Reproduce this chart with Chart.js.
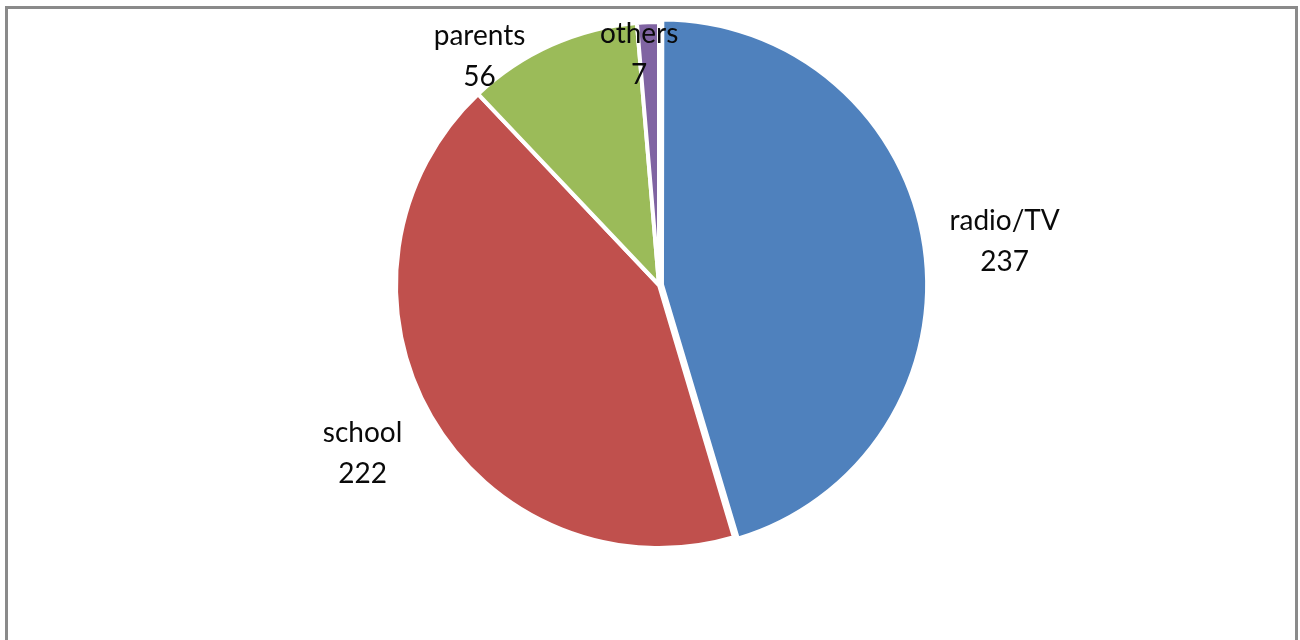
<!DOCTYPE html>
<html>
<head>
<meta charset="utf-8">
<script src="https://cdn.jsdelivr.net/npm/chart.js@4/dist/chart.umd.min.js"></script>
<style>
  html, body { margin: 0; padding: 0; background: #fff; }
  #wrap { width: 1300px; height: 640px; position: relative; }
</style>
</head>
<body>
<div id="wrap"><canvas id="myChart" width="1300" height="640"></canvas></div>
<script>
// data
var categories = ['radio/TV', 'school', 'parents', 'others'];
var counts = [237, 222, 56, 7];
var colors = ['#4F81BD', '#C0504D', '#9BBB59', '#8064A2'];

// label placement: distance (x radius) and angle nudge (deg) from slice middle
var labelDist = [1.325, 1.295, 1.105, 0.88];
var labelNudge = [1, 0.5, -14, -2.5];

// grey frame round the whole chart
const framePlugin = {
    id: 'frame',
    beforeDraw(chart) {
        const ctx = chart.ctx;
        ctx.save();
        ctx.strokeStyle = '#8a8a8a';
        ctx.lineWidth = 3;
        ctx.strokeRect(6.5, 7.5, 1290, 700);
        ctx.restore();
    }
};

// two-line labels: name and value
const sliceLabels = {
    id: 'sliceLabels',
    afterDatasetsDraw(chart) {
        const ctx = chart.ctx;
        const meta = chart.getDatasetMeta(0);
        ctx.save();
        ctx.font = '28px Lato, "Open Sans", sans-serif';
        ctx.fillStyle = '#0a0a0a';
        ctx.textAlign = 'center';
        ctx.textBaseline = 'middle';
        meta.data.forEach((arc, i) => {
            const p = arc.getProps(['x', 'y', 'startAngle', 'endAngle', 'outerRadius'], true);
            const mid = (p.startAngle + p.endAngle) / 2 + labelNudge[i] * Math.PI / 180;
            const d = p.outerRadius * labelDist[i];
            const x = p.x + Math.cos(mid) * d;
            const y = p.y + Math.sin(mid) * d;
            ctx.fillText(categories[i], x, y - 20);
            ctx.fillText(String(counts[i]), x, y + 21);
        });
        ctx.restore();
    }
};

var chart = new Chart('myChart', {
    type: 'pie',
    data: {
        labels: categories,
        datasets: [{
            data: counts,
            backgroundColor: colors,
            borderColor: '#ffffff',
            borderWidth: 4,
            offset: [12, 0, 0, 0],
            radius: 263
        }]
    },
    options: {
        responsive: false,
        animation: false,
        layout: { padding: { left: 18, right: 0, top: 0, bottom: 70 } },
        plugins: {
            legend: { display: false },
            tooltip: { enabled: false }
        }
    },
    plugins: [framePlugin, sliceLabels]
});
</script>
</body>
</html>
